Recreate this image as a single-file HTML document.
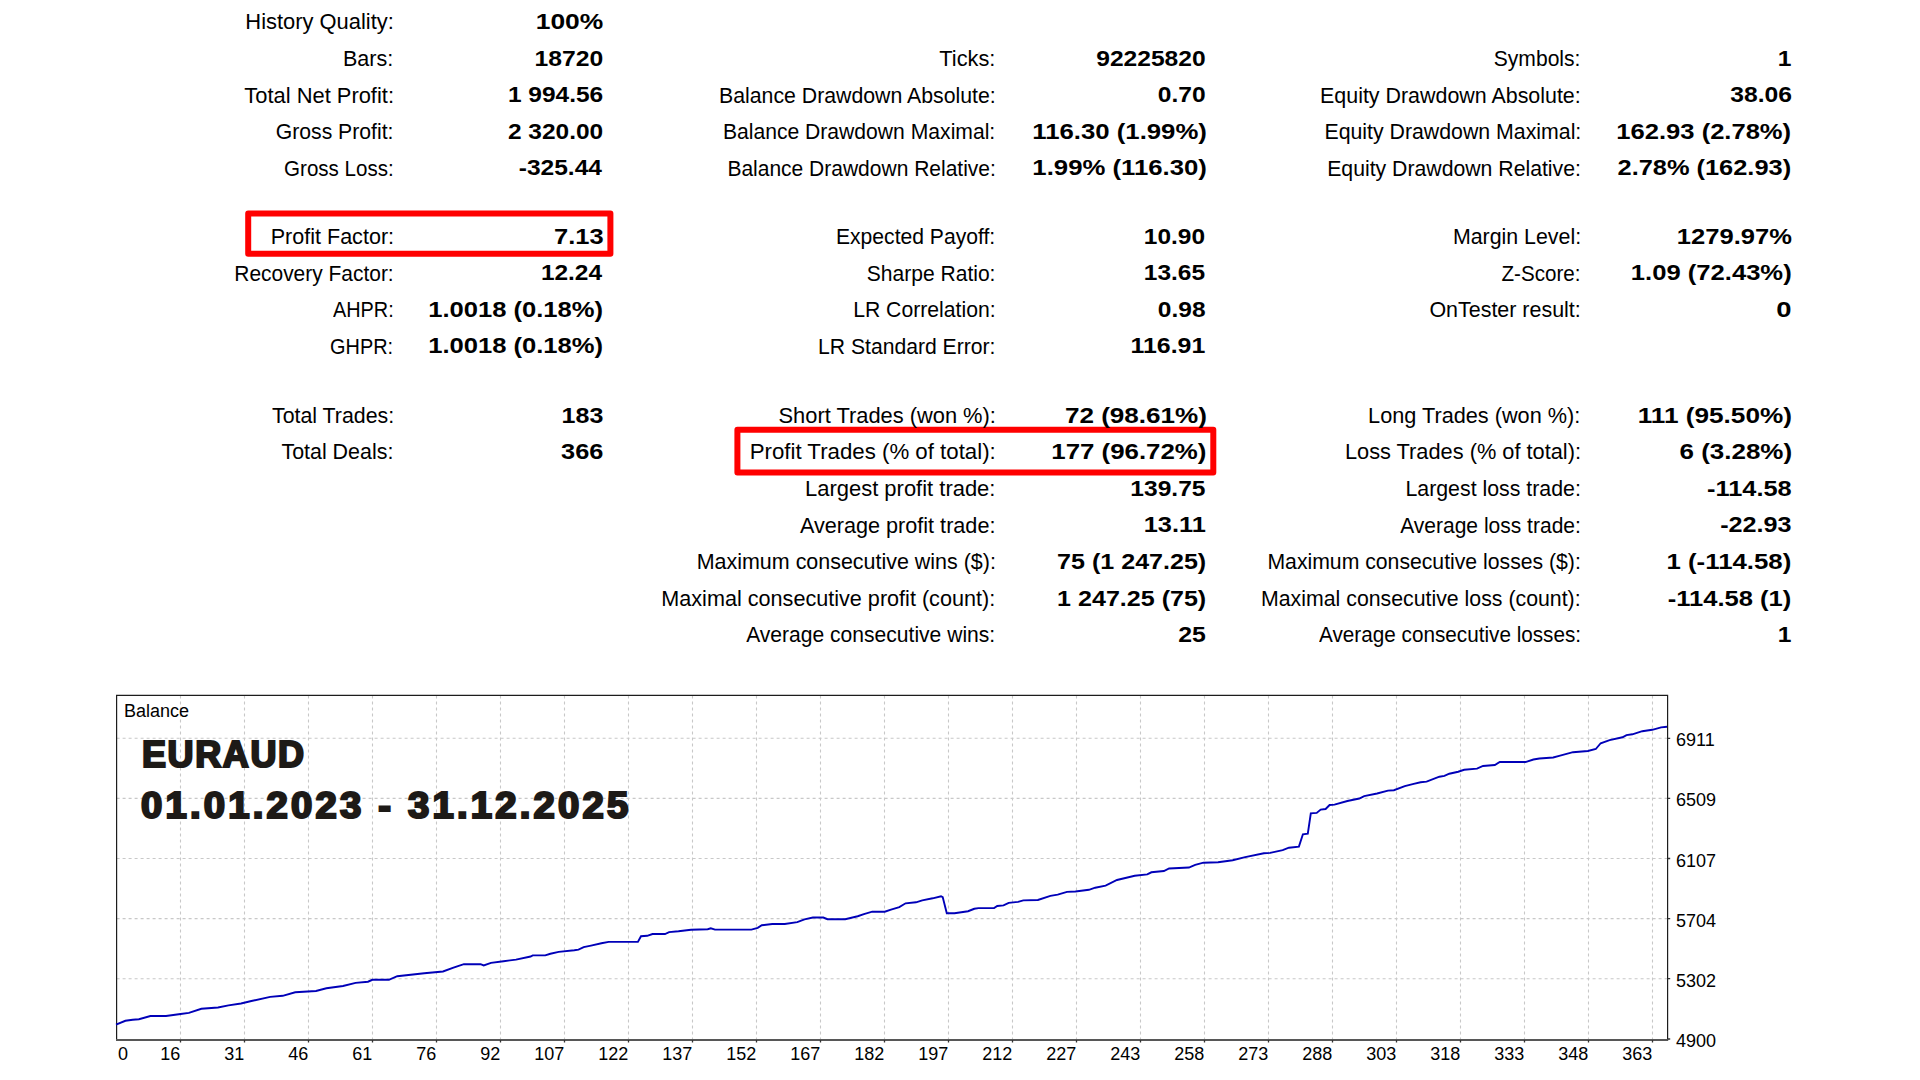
<!DOCTYPE html>
<html><head><meta charset="utf-8"><style>
html,body{margin:0;padding:0;background:#fff;width:1920px;height:1080px;overflow:hidden;position:relative}
div{position:absolute;white-space:pre;line-height:1;color:#000}
.l{font:21.5px "Liberation Sans",sans-serif;transform:scaleX(0.985);transform-origin:100% 50%}
.v{font:bold 22.4px "Liberation Sans",sans-serif;transform:scaleX(1.12);transform-origin:100% 50%}
.ax{font:18px "Liberation Sans",sans-serif}
.big{font:bold 36px "Liberation Sans",sans-serif;color:#1d1a17;-webkit-text-stroke:2.2px #1d1a17}
</style></head><body>
<svg width="1920" height="1080" style="position:absolute;left:0;top:0">
<path d="M180.5 695.4V1040.0M244.5 695.4V1040.0M308.5 695.4V1040.0M372.5 695.4V1040.0M436.5 695.4V1040.0M500.5 695.4V1040.0M564.5 695.4V1040.0M628.5 695.4V1040.0M692.5 695.4V1040.0M756.5 695.4V1040.0M820.5 695.4V1040.0M884.5 695.4V1040.0M948.5 695.4V1040.0M1012.5 695.4V1040.0M1076.5 695.4V1040.0M1140.5 695.4V1040.0M1204.5 695.4V1040.0M1268.5 695.4V1040.0M1332.5 695.4V1040.0M1396.5 695.4V1040.0M1460.5 695.4V1040.0M1524.5 695.4V1040.0M1588.5 695.4V1040.0M1652.5 695.4V1040.0M116.6 738.3H1667.6M116.6 798.4H1667.6M116.6 858.5H1667.6M116.6 918.5999999999999H1667.6M116.6 978.6999999999999H1667.6" stroke="#c8c8c8" stroke-width="1.1" stroke-dasharray="3 3" fill="none"/>
<path d="M116.6 695.4H1667.6M116.6 694.8V1040.0M1667.6 694.8V1040.0" fill="none" stroke="#1c1c1c" stroke-width="1.2"/>
<path d="M116.0 1040.0H1668.1999999999998" fill="none" stroke="#575757" stroke-width="2"/>
<path d="M180.5 1040.0v2.6M244.5 1040.0v2.6M308.5 1040.0v2.6M372.5 1040.0v2.6M436.5 1040.0v2.6M500.5 1040.0v2.6M564.5 1040.0v2.6M628.5 1040.0v2.6M692.5 1040.0v2.6M756.5 1040.0v2.6M820.5 1040.0v2.6M884.5 1040.0v2.6M948.5 1040.0v2.6M1012.5 1040.0v2.6M1076.5 1040.0v2.6M1140.5 1040.0v2.6M1204.5 1040.0v2.6M1268.5 1040.0v2.6M1332.5 1040.0v2.6M1396.5 1040.0v2.6M1460.5 1040.0v2.6M1524.5 1040.0v2.6M1588.5 1040.0v2.6M1652.5 1040.0v2.6M1667.6 738.3h2.6M1667.6 798.4h2.6M1667.6 858.5h2.6M1667.6 918.5999999999999h2.6M1667.6 978.6999999999999h2.6M1667.6 1039.0h2.6" stroke="#333" stroke-width="1.3" fill="none"/>
<polyline points="116,1024.6 125.4,1020.8 132.7,1019.8 138.9,1019.2 150.4,1016 166,1016 180.6,1014 188.9,1012.9 201.4,1008.75 218,1007.5 228.5,1005.4 241,1003.5 251.4,1001 270.2,996.9 282.7,995.8 295.2,992.3 316,991 326.4,988.3 343,986 355.6,982.9 368,981.7 372.3,979.8 388.9,979.8 397.25,976.25 424.3,973.3 443,971.5 453.5,967.7 463.9,964.2 480.6,964.2 483.7,965.4 491,962.9 503.5,961.25 516,959.6 530.6,956.5 532.7,955.4 545.2,955.4 550.4,953.75 558.7,951.9 574.3,950.2 578.5,949.6 583.7,947.1 591,945.6 601.4,943.3 608.7,941.9 637.9,941.9 641,936.25 647.25,935.8 652.5,934 665,934 669.1,932.1 678.5,931.25 691,929.8 707.7,929.2 710.8,928.3 715,929.6 751.4,929.6 757.7,927.9 761.8,925.2 772.25,924 784.75,924 797.25,922.1 804.5,919.4 812.9,917.5 823.3,917.5 827.5,919.2 845.2,919.2 857.7,916.25 863.9,914.2 872.25,911.7 884.75,911.7 891,909.6 899.3,907.1 905.6,903.3 916,902.3 922.25,900.4 932.7,898.3 941,896.25 942.7,897.1 946.8,913.3 954.5,913.3 968.1,911.25 974.3,908.75 978.5,908.1 994.1,908.1 997.25,906 1003.5,905.4 1008.7,902.9 1018.1,901.9 1023.3,900.4 1037.9,900 1050.4,895.8 1057.7,894.6 1067,891.9 1075.4,891.5 1088.9,889.8 1095.2,887.7 1105.6,885.6 1117,880 1134.75,875.8 1147.25,874.4 1151.4,872.3 1163.9,871 1169.1,868.5 1188.9,867.5 1195.2,864.8 1203.5,862.7 1218.1,862.3 1232.7,860.2 1245.2,857.1 1263.9,853.3 1270.2,852.9 1282.7,850.2 1288.9,847.7 1298.9,846.6 1302.9,834.3 1307.8,833.7 1310.8,813.3 1316.7,812.9 1320.7,809.6 1325.6,809 1329.6,805 1334.5,804.6 1347.4,801 1359.3,798.5 1364.2,796.1 1377.1,793.5 1388,790.6 1393.9,790.2 1404.8,786.2 1413.7,783.8 1420.6,782.2 1426.6,781.6 1439.4,776.7 1444.4,775.9 1449.3,773.7 1458.2,771.75 1464.2,769.8 1477,768.6 1483,766 1494.8,765 1499.8,762.05 1525.5,762.05 1533.4,759.5 1539.4,758.5 1553.2,757.5 1559.2,755.9 1573,752.2 1587.9,751 1595.8,749 1600.7,743.25 1609.6,740.1 1622.5,737.3 1626.5,735.1 1632.4,734.3 1642.3,731.2 1652.2,729.8 1661.1,727.4 1667,726.8" fill="none" stroke="#0000b8" stroke-width="1.9" stroke-linejoin="miter"/>
<rect x="248.2" y="213.5" width="362.2" height="40.3" fill="none" stroke="#ff0000" stroke-width="6" stroke-linejoin="round"/>
<rect x="737.4" y="429.7" width="475.9" height="42.9" fill="none" stroke="#ff0000" stroke-width="6" stroke-linejoin="round"/>
</svg>
<div class="l" style="right:1526.35px;top:10.3px;transform:scaleX(1.0184)">History Quality:</div>
<div class="v" style="right:1316.51px;top:9.0px;transform:scaleX(1.1800)">100%</div>
<div class="l" style="right:1526.39px;top:46.9px;transform:scaleX(1.0022)">Bars:</div>
<div class="v" style="right:1316.55px;top:45.6px;transform:scaleX(1.1025)">18720</div>
<div class="l" style="right:1526.35px;top:83.5px;transform:scaleX(1.0181)">Total Net Profit:</div>
<div class="v" style="right:1316.55px;top:82.2px;transform:scaleX(1.0929)">1 994.56</div>
<div class="l" style="right:1526.44px;top:120.1px;transform:scaleX(0.9858)">Gross Profit:</div>
<div class="v" style="right:1316.55px;top:118.8px;transform:scaleX(1.0929)">2 320.00</div>
<div class="l" style="right:1526.51px;top:156.7px;transform:scaleX(0.9559)">Gross Loss:</div>
<div class="v" style="right:1317.65px;top:155.4px;transform:scaleX(1.0953)">-325.44</div>
<div class="l" style="right:1526.39px;top:224.9px;transform:scaleX(1.0029)">Profit Factor:</div>
<div class="v" style="right:1316.53px;top:223.6px;transform:scaleX(1.1378)">7.13</div>
<div class="l" style="right:1526.47px;top:261.5px;transform:scaleX(0.9739)">Recovery Factor:</div>
<div class="v" style="right:1317.65px;top:260.2px;transform:scaleX(1.0907)">12.24</div>
<div class="l" style="right:1526.59px;top:298.1px;transform:scaleX(0.9238)">AHPR:</div>
<div class="v" style="right:1316.53px;top:296.8px;transform:scaleX(1.1427)">1.0018 (0.18%)</div>
<div class="l" style="right:1526.59px;top:334.7px;transform:scaleX(0.9250)">GHPR:</div>
<div class="v" style="right:1316.53px;top:333.4px;transform:scaleX(1.1427)">1.0018 (0.18%)</div>
<div class="l" style="right:1526.42px;top:403.8px;transform:scaleX(0.9917)">Total Trades:</div>
<div class="v" style="right:1316.54px;top:402.5px;transform:scaleX(1.1186)">183</div>
<div class="l" style="right:1526.41px;top:440.4px;transform:scaleX(0.9963)">Total Deals:</div>
<div class="v" style="right:1316.53px;top:439.1px;transform:scaleX(1.1314)">366</div>
<div class="l" style="right:924.47px;top:46.9px;transform:scaleX(1.0115)">Ticks:</div>
<div class="v" style="right:714.47px;top:45.6px;transform:scaleX(1.0980)">92225820</div>
<div class="l" style="right:924.53px;top:83.5px;transform:scaleX(0.9891)">Balance Drawdown Absolute:</div>
<div class="v" style="right:714.47px;top:82.2px;transform:scaleX(1.0976)">0.70</div>
<div class="l" style="right:924.54px;top:120.1px;transform:scaleX(0.9824)">Balance Drawdown Maximal:</div>
<div class="v" style="right:713.31px;top:118.8px;transform:scaleX(1.1490)">116.30 (1.99%)</div>
<div class="l" style="right:924.56px;top:156.7px;transform:scaleX(0.9768)">Balance Drawdown Relative:</div>
<div class="v" style="right:713.31px;top:155.4px;transform:scaleX(1.1490)">1.99% (116.30)</div>
<div class="l" style="right:924.54px;top:224.9px;transform:scaleX(0.9816)">Expected Payoff:</div>
<div class="v" style="right:714.47px;top:223.6px;transform:scaleX(1.0926)">10.90</div>
<div class="l" style="right:924.55px;top:261.5px;transform:scaleX(0.9789)">Sharpe Ratio:</div>
<div class="v" style="right:714.47px;top:260.2px;transform:scaleX(1.0926)">13.65</div>
<div class="l" style="right:924.54px;top:298.1px;transform:scaleX(0.9850)">LR Correlation:</div>
<div class="v" style="right:714.47px;top:296.8px;transform:scaleX(1.0952)">0.98</div>
<div class="l" style="right:924.54px;top:334.7px;transform:scaleX(0.9830)">LR Standard Error:</div>
<div class="v" style="right:714.47px;top:333.4px;transform:scaleX(1.1123)">116.91</div>
<div class="l" style="right:924.46px;top:403.8px;transform:scaleX(1.0162)">Short Trades (won %):</div>
<div class="v" style="right:713.29px;top:402.5px;transform:scaleX(1.1647)">72 (98.61%)</div>
<div class="l" style="right:924.42px;top:440.4px;transform:scaleX(1.0352)">Profit Trades (% of total):</div>
<div class="v" style="right:713.30px;top:439.1px;transform:scaleX(1.1542)">177 (96.72%)</div>
<div class="l" style="right:924.45px;top:477.0px;transform:scaleX(1.0214)">Largest profit trade:</div>
<div class="v" style="right:714.47px;top:475.7px;transform:scaleX(1.0970)">139.75</div>
<div class="l" style="right:924.49px;top:513.6px;transform:scaleX(1.0057)">Average profit trade:</div>
<div class="v" style="right:714.46px;top:512.3px;transform:scaleX(1.1337)">13.11</div>
<div class="l" style="right:924.51px;top:550.2px;transform:scaleX(0.9976)">Maximum consecutive wins ($):</div>
<div class="v" style="right:713.35px;top:548.9px;transform:scaleX(1.1192)">75 (1 247.25)</div>
<div class="l" style="right:924.49px;top:586.8px;transform:scaleX(1.0052)">Maximal consecutive profit (count):</div>
<div class="v" style="right:713.35px;top:585.5px;transform:scaleX(1.1192)">1 247.25 (75)</div>
<div class="l" style="right:924.55px;top:623.4px;transform:scaleX(0.9797)">Average consecutive wins:</div>
<div class="v" style="right:714.47px;top:622.1px;transform:scaleX(1.1087)">25</div>
<div class="l" style="right:339.23px;top:46.9px;transform:scaleX(0.9800)">Symbols:</div>
<div class="v" style="right:128.45px;top:45.6px;transform:scaleX(1.1000)">1</div>
<div class="l" style="right:339.21px;top:83.5px;transform:scaleX(0.9961)">Equity Drawdown Absolute:</div>
<div class="v" style="right:128.45px;top:82.2px;transform:scaleX(1.1019)">38.06</div>
<div class="l" style="right:339.22px;top:120.1px;transform:scaleX(0.9906)">Equity Drawdown Maximal:</div>
<div class="v" style="right:128.43px;top:118.8px;transform:scaleX(1.1413)">162.93 (2.78%)</div>
<div class="l" style="right:339.22px;top:156.7px;transform:scaleX(0.9877)">Equity Drawdown Relative:</div>
<div class="v" style="right:128.43px;top:155.4px;transform:scaleX(1.1338)">2.78% (162.93)</div>
<div class="l" style="right:339.21px;top:224.9px;transform:scaleX(0.9928)">Margin Level:</div>
<div class="v" style="right:128.43px;top:223.6px;transform:scaleX(1.1403)">1279.97%</div>
<div class="l" style="right:339.27px;top:261.5px;transform:scaleX(0.9575)">Z-Score:</div>
<div class="v" style="right:128.43px;top:260.2px;transform:scaleX(1.1431)">1.09 (72.43%)</div>
<div class="l" style="right:339.20px;top:298.1px;transform:scaleX(0.9973)">OnTester result:</div>
<div class="v" style="right:128.39px;top:296.8px;transform:scaleX(1.2250)">0</div>
<div class="l" style="right:339.18px;top:403.8px;transform:scaleX(1.0092)">Long Trades (won %):</div>
<div class="v" style="right:128.42px;top:402.5px;transform:scaleX(1.1686)">111 (95.50%)</div>
<div class="l" style="right:339.18px;top:440.4px;transform:scaleX(1.0131)">Loss Trades (% of total):</div>
<div class="v" style="right:128.42px;top:439.1px;transform:scaleX(1.1600)">6 (3.28%)</div>
<div class="l" style="right:339.21px;top:477.0px;transform:scaleX(0.9919)">Largest loss trade:</div>
<div class="v" style="right:128.43px;top:475.7px;transform:scaleX(1.1333)">-114.58</div>
<div class="l" style="right:339.24px;top:513.6px;transform:scaleX(0.9776)">Average loss trade:</div>
<div class="v" style="right:128.44px;top:512.3px;transform:scaleX(1.1230)">-22.93</div>
<div class="l" style="right:339.22px;top:550.2px;transform:scaleX(0.9860)">Maximum consecutive losses ($):</div>
<div class="v" style="right:128.42px;top:548.9px;transform:scaleX(1.1524)">1 (-114.58)</div>
<div class="l" style="right:339.22px;top:586.8px;transform:scaleX(0.9906)">Maximal consecutive loss (count):</div>
<div class="v" style="right:128.43px;top:585.5px;transform:scaleX(1.1415)">-114.58 (1)</div>
<div class="l" style="right:339.26px;top:623.4px;transform:scaleX(0.9630)">Average consecutive losses:</div>
<div class="v" style="right:128.45px;top:622.1px;transform:scaleX(1.1000)">1</div>
<div class="ax" style="left:124px;top:700.5px;font-size:18px">Balance</div>
<div class="ax" style="right:1739.7px;top:1044px">16</div>
<div class="ax" style="right:1675.7px;top:1044px">31</div>
<div class="ax" style="right:1611.7px;top:1044px">46</div>
<div class="ax" style="right:1547.7px;top:1044px">61</div>
<div class="ax" style="right:1483.7px;top:1044px">76</div>
<div class="ax" style="right:1419.7px;top:1044px">92</div>
<div class="ax" style="right:1355.7px;top:1044px">107</div>
<div class="ax" style="right:1291.7px;top:1044px">122</div>
<div class="ax" style="right:1227.7px;top:1044px">137</div>
<div class="ax" style="right:1163.7px;top:1044px">152</div>
<div class="ax" style="right:1099.7px;top:1044px">167</div>
<div class="ax" style="right:1035.7px;top:1044px">182</div>
<div class="ax" style="right:971.7px;top:1044px">197</div>
<div class="ax" style="right:907.7px;top:1044px">212</div>
<div class="ax" style="right:843.7px;top:1044px">227</div>
<div class="ax" style="right:779.7px;top:1044px">243</div>
<div class="ax" style="right:715.7px;top:1044px">258</div>
<div class="ax" style="right:651.7px;top:1044px">273</div>
<div class="ax" style="right:587.7px;top:1044px">288</div>
<div class="ax" style="right:523.7px;top:1044px">303</div>
<div class="ax" style="right:459.7px;top:1044px">318</div>
<div class="ax" style="right:395.7px;top:1044px">333</div>
<div class="ax" style="right:331.7px;top:1044px">348</div>
<div class="ax" style="right:267.7px;top:1044px">363</div>
<div class="ax" style="left:118px;top:1044px">0</div>
<div class="ax" style="left:1676px;top:730.3px">6911</div>
<div class="ax" style="left:1676px;top:790.4px">6509</div>
<div class="ax" style="left:1676px;top:850.5px">6107</div>
<div class="ax" style="left:1676px;top:910.6px">5704</div>
<div class="ax" style="left:1676px;top:970.7px">5302</div>
<div class="ax" style="left:1676px;top:1031.2px">4900</div>
<div class="big" style="left:142px;top:733.5px;letter-spacing:1.6px;transform:scaleX(1.0);transform-origin:0 0">EURAUD</div>
<div class="big" style="left:141px;top:785.3px;letter-spacing:3px;transform:scaleX(1.063);transform-origin:0 0">01.01.2023 - 31.12.2025</div>
</body></html>
